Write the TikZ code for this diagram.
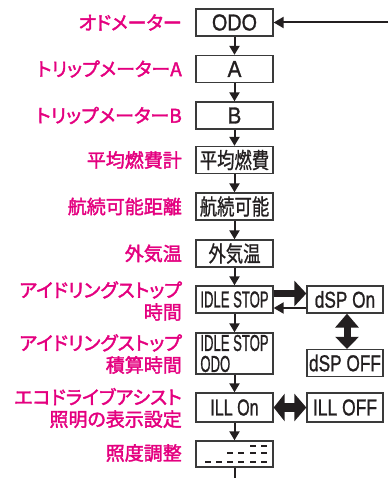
\documentclass[tikz,border=0pt]{standalone}
\usepackage{fontspec}
\usepackage{graphicx}
\usetikzlibrary{arrows.meta}
\newfontfamily\jplab[Script=CJK,RawFeature=+palt,FakeBold=2]{Noto Sans CJK JP}
\newfontfamily\jpbox[FakeBold=1]{Noto Sans CJK JP}
\newfontfamily\latbox[FakeBold=1.2]{Liberation Sans}
\definecolor{mag}{HTML}{E4007F}
\definecolor{ink}{HTML}{231F20}
\definecolor{frame}{HTML}{3A3A3A}
\tikzset{
  mbox/.style={draw=frame, line width=1.3pt, minimum width=77pt, minimum height=27pt,
    inner sep=0pt, fill=white, text=ink, font={\latbox\fontsize{23}{23}\selectfont}},
  sbox/.style={mbox, minimum width=76pt},
  jbox/.style={mbox, font={\jpbox\fontsize{22}{22}\selectfont}},
  lab/.style={anchor=east, text=mag, align=right, inner sep=0pt,
    font={\jplab\fontsize{19}{22}\selectfont}},
  down/.style={draw=ink, line width=2pt, -{Triangle[width=10pt,length=9pt]}},
  backarr/.style={draw=ink, line width=2pt, -{Triangle[width=11pt,length=10pt]}},
  fatarr/.style={draw=ink, line width=7pt, -{Triangle[width=25pt,length=12pt]}},
  fatdbl/.style={draw=ink, line width=7pt, {Triangle[width=23pt,length=14pt]}-{Triangle[width=23pt,length=12pt]}},
  illdbl/.style={draw=ink, line width=9pt, {Triangle[width=27pt,length=11pt]}-{Triangle[width=27pt,length=12pt]}},
  seg/.style={draw=ink, line width=2pt},
  exitline/.style={draw=ink, line width=2pt}
}
\begin{document}
\begin{tikzpicture}[x=1pt,y=-1pt]
\useasboundingbox (0,0) rectangle (388,478);
% boxes
\node[mbox] (odo) at (234.5,22.5) {\scalebox{0.86}[1]{ODO}};
\node[mbox] (a) at (234.5,69) {\scalebox{0.9}[1]{A}};
\node[mbox] (b) at (234.5,115.5) {\scalebox{0.9}[1]{B}};
\node[jbox] (avg) at (234.5,160) {\scalebox{0.79}[1]{平均燃費}};
\node[jbox] (range) at (234.5,206.5) {\scalebox{0.79}[1]{航続可能}};
\node[jbox] (temp) at (234.5,253.5) {\scalebox{0.79}[1]{外気温}};
\node[mbox] (idle) at (234.5,299.5) {\scalebox{0.57}[1]{IDLE STOP}};
\node[mbox, minimum height=41pt, align=left] (idleodo) at (234.5,353.5) {\scalebox{0.57}[1]{IDLE STOP}\\[-2pt]\scalebox{0.57}[1]{ODO}};
\node[mbox, minimum height=29pt] (illon) at (234.5,407.5) {\scalebox{0.70}[1]{ILL On}};
\node[mbox, minimum height=26pt] (dim) at (234.5,454) {};
\node[sbox] (dspon) at (345,299.5) {\scalebox{0.75}[1]{dSP On}};
\node[sbox] (dspoff) at (345,363) {\scalebox{0.75}[1]{dSP OFF}};
\node[sbox, minimum height=29pt] (illoff) at (345,407.5) {\scalebox{0.76}[1]{ILL OFF}};
% dashes in dim box
\foreach \x in {250,261} \draw[seg] (\x,445.7) -- ++(5.5,0);
\foreach \x in {227,238,250,261} \draw[seg] (\x,453.3) -- ++(5.5,0);
\foreach \x in {205,216,227,238,250,261} \draw[seg] (\x,462) -- ++(5.5,0);
% labels
\node[lab] (lodo) at (182,22.5) {オドメーター};
\node[lab] (la) at (182,69) {トリップメーターA};
\node[lab] (lb) at (182,115.5) {トリップメーターB};
\node[lab] (lavg) at (182,160) {平均燃費計};
\node[lab] (lrange) at (182,206.5) {航続可能距離};
\node[lab] (ltemp) at (182,253.5) {外気温};
\node[lab] (lidle) at (182,301) {アイドリングストップ\\時間};
\node[lab] (lidleodo) at (182,354) {アイドリングストップ\\積算時間};
\node[lab] (lill) at (182,408) {エコドライブアシスト\\照明の表示設定};
\node[lab] (ldim) at (182,453) {照度調整};
% vertical flow
\draw[down] (odo) -- (a);
\draw[down] (a) -- (b);
\draw[down] (b) -- (avg);
\draw[down] (avg) -- (range);
\draw[down] (range) -- (temp);
\draw[down] (temp) -- (idle);
\draw[down] (idle) -- (idleodo);
\draw[down] (idleodo) -- (illon);
\draw[down] (illon) -- (dim);
\coordinate (exit) at (234.5,478);
\draw[exitline] (dim.south) -- (exit);
\coordinate (topin) at (388,22.5);
\draw[backarr] (topin) -- (odo.east);
% side arrows
\draw[fatarr] ([yshift=6pt]idle.east) -- ([yshift=6pt]dspon.west);
\draw[backarr] ([yshift=-8.5pt]dspon.west) -- ([yshift=-8.5pt]idle.east);
\draw[fatdbl] ([xshift=2pt]dspon.south) -- ([xshift=2pt]dspoff.north);
\draw[illdbl] (illon.east) -- (illoff.west);
\end{tikzpicture}
\end{document}
